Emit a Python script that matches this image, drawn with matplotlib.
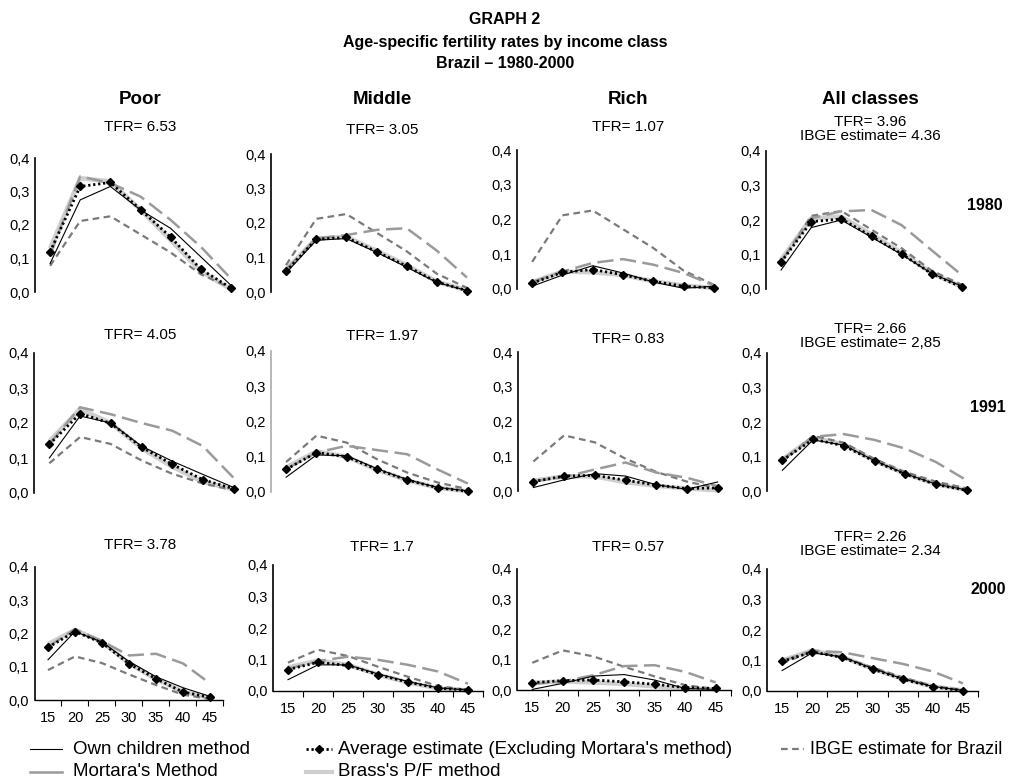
import matplotlib
matplotlib.use("Agg")
import matplotlib.pyplot as plt
from matplotlib.lines import Line2D

plt.rcParams['font.family'] = ['Liberation Sans', 'DejaVu Sans']

ages = [15, 20, 25, 30, 35, 40, 45]
y_ticks = [0.0, 0.1, 0.2, 0.3, 0.4]
y_tick_labels = ['0,0', '0,1', '0,2', '0,3', '0,4']
classes = ['Poor', 'Middle', 'Rich', 'All classes']
years = ['1980', '1991', '2000']

# ---- 1980 ----
poor_1980_own = [0.085, 0.275, 0.315, 0.245, 0.19, 0.105, 0.02]
poor_1980_mortara = [0.11, 0.345, 0.325, 0.285, 0.215, 0.135, 0.04]
poor_1980_avg = [0.12, 0.315, 0.327, 0.246, 0.164, 0.068, 0.012]
poor_1980_brass = [0.13, 0.34, 0.33, 0.245, 0.155, 0.062, 0.008]

middle_1980_own = [0.055, 0.15, 0.155, 0.115, 0.072, 0.028, 0.004]
middle_1980_mortara = [0.065, 0.155, 0.165, 0.18, 0.185, 0.12, 0.042]
middle_1980_avg = [0.06, 0.153, 0.158, 0.117, 0.075, 0.029, 0.004]
middle_1980_brass = [0.065, 0.155, 0.16, 0.12, 0.078, 0.03, 0.005]

rich_1980_own = [0.008, 0.04, 0.067, 0.046, 0.02, 0.002, 0.008]
rich_1980_mortara = [0.02, 0.05, 0.075, 0.086, 0.07, 0.046, 0.01]
rich_1980_avg = [0.017, 0.048, 0.056, 0.041, 0.022, 0.008, 0.003]
rich_1980_brass = [0.02, 0.05, 0.048, 0.04, 0.022, 0.01, 0.003]

all_1980_own = [0.055, 0.178, 0.2, 0.15, 0.1, 0.045, 0.008]
all_1980_mortara = [0.08, 0.205, 0.225, 0.229, 0.185, 0.112, 0.04]
all_1980_avg = [0.078, 0.195, 0.203, 0.153, 0.102, 0.044, 0.005]
all_1980_brass = [0.085, 0.205, 0.21, 0.158, 0.105, 0.046, 0.006]

# ---- 1991 ----
poor_1991_own = [0.1, 0.22, 0.2, 0.134, 0.091, 0.053, 0.016]
poor_1991_mortara = [0.14, 0.245, 0.225, 0.2, 0.178, 0.134, 0.043]
poor_1991_avg = [0.139, 0.227, 0.199, 0.131, 0.082, 0.038, 0.012]
poor_1991_brass = [0.148, 0.24, 0.2, 0.128, 0.075, 0.032, 0.01]

middle_1991_own = [0.042, 0.105, 0.103, 0.066, 0.035, 0.013, 0.003]
middle_1991_mortara = [0.065, 0.112, 0.131, 0.119, 0.107, 0.064, 0.024]
middle_1991_avg = [0.064, 0.112, 0.1, 0.064, 0.034, 0.012, 0.002]
middle_1991_brass = [0.07, 0.115, 0.1, 0.063, 0.033, 0.012, 0.002]

rich_1991_own = [0.01, 0.032, 0.05, 0.043, 0.018, 0.005, 0.026]
rich_1991_mortara = [0.028, 0.04, 0.062, 0.082, 0.053, 0.038, 0.014]
rich_1991_avg = [0.027, 0.043, 0.045, 0.031, 0.017, 0.007, 0.009]
rich_1991_brass = [0.03, 0.042, 0.042, 0.025, 0.015, 0.007, 0.002]

all_1991_own = [0.06, 0.148, 0.133, 0.088, 0.05, 0.02, 0.003]
all_1991_mortara = [0.09, 0.157, 0.165, 0.148, 0.123, 0.084, 0.031]
all_1991_avg = [0.089, 0.15, 0.131, 0.086, 0.049, 0.019, 0.002]
all_1991_brass = [0.092, 0.155, 0.135, 0.088, 0.05, 0.02, 0.003]

# ---- 2000 ----
poor_2000_own = [0.121, 0.206, 0.174, 0.116, 0.07, 0.037, 0.011]
poor_2000_mortara = [0.16, 0.213, 0.177, 0.134, 0.139, 0.11, 0.05]
poor_2000_avg = [0.158, 0.206, 0.172, 0.109, 0.064, 0.024, 0.008]
poor_2000_brass = [0.168, 0.211, 0.175, 0.11, 0.063, 0.025, 0.006]

middle_2000_own = [0.036, 0.083, 0.083, 0.054, 0.03, 0.01, 0.003]
middle_2000_mortara = [0.07, 0.095, 0.109, 0.099, 0.083, 0.062, 0.023]
middle_2000_avg = [0.068, 0.091, 0.081, 0.052, 0.028, 0.009, 0.003]
middle_2000_brass = [0.075, 0.097, 0.083, 0.052, 0.027, 0.008, 0.002]

rich_2000_own = [0.002, 0.022, 0.046, 0.051, 0.033, 0.005, 0.002]
rich_2000_mortara = [0.02, 0.028, 0.049, 0.079, 0.082, 0.06, 0.025]
rich_2000_avg = [0.024, 0.031, 0.033, 0.027, 0.019, 0.008, 0.005]
rich_2000_brass = [0.024, 0.028, 0.025, 0.02, 0.012, 0.006, 0.002]

all_2000_own = [0.067, 0.125, 0.112, 0.074, 0.04, 0.015, 0.002]
all_2000_mortara = [0.098, 0.132, 0.127, 0.108, 0.089, 0.064, 0.025]
all_2000_avg = [0.097, 0.128, 0.11, 0.072, 0.039, 0.014, 0.001]
all_2000_brass = [0.1, 0.133, 0.112, 0.073, 0.04, 0.015, 0.002]

# IBGE estimate for Brazil (same in every panel of a year)
ibge_1980 = [0.078, 0.212, 0.226, 0.172, 0.118, 0.053, 0.012]
ibge_1991 = [0.085, 0.16, 0.14, 0.093, 0.055, 0.027, 0.008]
ibge_2000 = [0.09, 0.131, 0.111, 0.077, 0.045, 0.016, 0.003]

tfr_labels = [
    ['TFR= 6.53', 'TFR= 3.05', 'TFR= 1.07', 'TFR= 3.96\nIBGE estimate= 4.36'],
    ['TFR= 4.05', 'TFR= 1.97', 'TFR= 0.83', 'TFR= 2.66\nIBGE estimate= 2,85'],
    ['TFR= 3.78', 'TFR= 1.7', 'TFR= 0.57', 'TFR= 2.26\nIBGE estimate= 2.34'],
]

panels = [
    [(poor_1980_own, poor_1980_mortara, poor_1980_avg, poor_1980_brass),
     (middle_1980_own, middle_1980_mortara, middle_1980_avg, middle_1980_brass),
     (rich_1980_own, rich_1980_mortara, rich_1980_avg, rich_1980_brass),
     (all_1980_own, all_1980_mortara, all_1980_avg, all_1980_brass)],
    [(poor_1991_own, poor_1991_mortara, poor_1991_avg, poor_1991_brass),
     (middle_1991_own, middle_1991_mortara, middle_1991_avg, middle_1991_brass),
     (rich_1991_own, rich_1991_mortara, rich_1991_avg, rich_1991_brass),
     (all_1991_own, all_1991_mortara, all_1991_avg, all_1991_brass)],
    [(poor_2000_own, poor_2000_mortara, poor_2000_avg, poor_2000_brass),
     (middle_2000_own, middle_2000_mortara, middle_2000_avg, middle_2000_brass),
     (rich_2000_own, rich_2000_mortara, rich_2000_avg, rich_2000_brass),
     (all_2000_own, all_2000_mortara, all_2000_avg, all_2000_brass)],
]
ibge = [ibge_1980, ibge_1991, ibge_2000]

# ---- layout (pixels: left, right, top(0.4), bottom(0.0)) ----
W, H = 1009, 781
boxes = [
    [(35, 246, 158, 292), (271, 482, 154, 292), (517, 729, 150, 289), (766, 977, 151, 289)],
    [(34, 249, 353, 493), (271, 483, 351, 492), (518, 733, 352, 491), (767, 982, 353, 491)],
    [(34.5, 223.5, 567, 700), (273, 483, 565, 691), (517, 731, 569, 690), (767, 978, 569, 691)],
]
tfr_y = [[127, 130, 127, 129], [335, 336, 339, 336], [545, 547, 547, 544]]
col_x = [140, 382, 628, 870]

# styles
own_style = dict(color='black', lw=0.8, zorder=4)
mortara_style = dict(color='#9a9a9a', lw=1.8, dashes=(6.5, 2.6), zorder=3)
avg_style = dict(color='black', lw=2.0, linestyle=(0, (0.8, 1.0)), marker='D',
                 ms=4.5, mfc='black', mec='black', zorder=5)
brass_style = dict(color='#cfcfcf', lw=3.2, zorder=1, solid_capstyle='butt')
ibge_style = dict(color='#7a7a7a', lw=1.6, dashes=(3, 2), zorder=2)

fig = plt.figure(figsize=(W / 100, H / 100), dpi=100)

for r in range(3):
    for c in range(4):
        L, R, T, B = boxes[r][c]
        ax = fig.add_axes([L / W, 1 - B / H, (R - L) / W, (B - T) / H])
        own, mort, avg, brass = panels[r][c]
        ax.plot(ages, brass, **brass_style, clip_on=False)
        ax.plot(ages, ibge[r], **ibge_style, clip_on=False)
        ax.plot(ages, mort, **mortara_style, clip_on=False)
        ax.plot(ages, own, **own_style, clip_on=False)
        ax.plot(ages, avg, **avg_style, clip_on=False)
        ax.set_xlim(12.5, 47.5)
        ax.set_ylim(0, 0.4)
        for s in ['top', 'right']:
            ax.spines[s].set_visible(False)
        ax.spines['left'].set_linewidth(1.2)
        ax.spines['left'].set_color('#aaaaaa' if (r == 1 and c == 1) else 'black')
        ax.set_yticks(y_ticks)
        ax.set_yticklabels(y_tick_labels, fontsize=10.5)
        ax.tick_params(axis='y', length=0, pad=4)
        if r == 2:
            ax.spines['bottom'].set_linewidth(1.0)
            ax.set_xticks(ages)
            ax.set_xticklabels([str(a) for a in ages], fontsize=10.5)
            ax.set_xticks([17.5, 22.5, 27.5, 32.5, 37.5, 42.5, 47.5], minor=True)
            ax.tick_params(axis='x', which='major', length=0, pad=8)
            ax.tick_params(axis='x', which='minor', length=4, width=0.8, direction='out')
        else:
            ax.spines['bottom'].set_visible(False)
            ax.set_xticks([])
        ax.patch.set_visible(False)
        fig.text(col_x[c] / W, 1 - tfr_y[r][c] / H, tfr_labels[r][c], ha='center',
                 va='center', fontsize=11, linespacing=1.0)

# Titles
fig.text(505 / W, 1 - 20 / H, 'GRAPH 2', ha='center', va='center', fontsize=11.5, fontweight='bold')
fig.text(505 / W, 1 - 42 / H, 'Age-specific fertility rates by income class', ha='center',
         va='center', fontsize=11.5, fontweight='bold')
fig.text(505 / W, 1 - 64 / H, 'Brazil \u2013 1980-2000', ha='center', va='center',
         fontsize=11.5, fontweight='bold')
for c, name in enumerate(classes):
    fig.text(col_x[c] / W, 1 - 100 / H, name, ha='center', va='center', fontsize=13.5,
             fontweight='bold')

year_pos = [(985, 205), (988, 408), (988, 590)]
for yr, (x, y) in zip(years, year_pos):
    fig.text(x / W, 1 - y / H, yr, ha='center', va='center', fontsize=11.5, fontweight='bold')

# Legend (drawn manually)
def leg_line(x0, x1, y, **kw):
    fig.add_artist(Line2D([x0 / W, x1 / W], [1 - y / H, 1 - y / H], transform=fig.transFigure, **kw))

leg_line(30, 62, 749, color='black', lw=0.8)
fig.text(73 / W, 1 - 749 / H, 'Own children method', ha='left', va='center', fontsize=13.5)
leg_line(30, 62, 772, color='#9a9a9a', lw=1.8)
fig.text(73 / W, 1 - 772 / H, "Mortara's Method", ha='left', va='center', fontsize=13.5)
leg_line(306, 332, 749, color='black', lw=2.0, linestyle=(0, (0.8, 1.0)))
fig.add_artist(Line2D([319 / W], [1 - 749 / H], transform=fig.transFigure, marker='D',
                      ms=4.5, color='black', lw=0))
fig.text(338 / W, 1 - 749 / H, "Average estimate (Excluding Mortara's method)", ha='left',
         va='center', fontsize=13.5)
leg_line(306, 332, 772, color='#cfcfcf', lw=3.0)
fig.text(338 / W, 1 - 772 / H, "Brass's P/F method", ha='left', va='center', fontsize=13.5)
leg_line(781, 804, 749, color='#7a7a7a', lw=1.6, dashes=(3, 2))
fig.text(810 / W, 1 - 749 / H, 'IBGE estimate for Brazil', ha='left', va='center', fontsize=13)

fig.savefig('out.png', dpi=100)
